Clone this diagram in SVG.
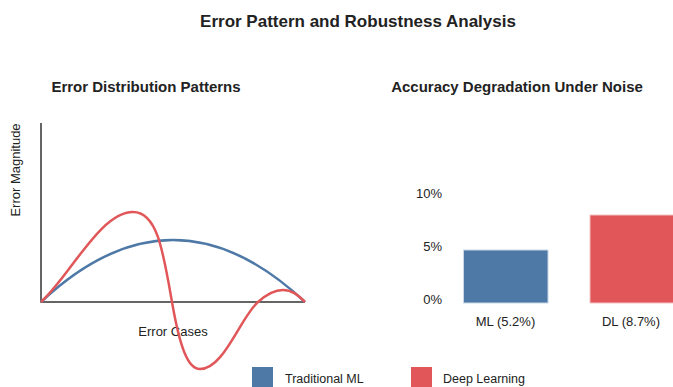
<svg xmlns="http://www.w3.org/2000/svg" width="673" height="387" viewBox="0 0 673 387">
<style>
text{font-family:"Liberation Sans",Arial,sans-serif;fill:#222}
.t{font-size:17px;font-weight:bold;text-anchor:middle}
.st{font-size:15px;font-weight:bold;text-anchor:middle}
.lb{font-size:13px}
.lg{font-size:12.5px}
.ax{stroke:#333;stroke-width:1.5;fill:none}
.ml{fill:#4e79a7}
.dl{fill:#e15759}
</style>
<rect width="673" height="387" fill="#fff"/>
<text class="t" x="358" y="27">Error Pattern and Robustness Analysis</text>
<g id="left-chart">
<text class="st" x="146" y="92">Error Distribution Patterns</text>
<path class="ax" d="M41,123 V302 H305"/>
<text class="lb" transform="translate(20,170) rotate(-90)" text-anchor="middle">Error Magnitude</text>
<text class="lb" x="173" y="336" text-anchor="middle">Error Cases</text>
<path d="M41,302 Q173,178 305,302" fill="none" stroke="#4e79a7" stroke-width="2.5"/>
<path d="M41,302 C70,276 100,212 133,212 C157,212 163,250 172,302 C180,348 188,369 200,369 C224,369 240,318 258,302 C268,293 276,290 283,290 C292,290 298,295 305,302" fill="none" stroke="#e15759" stroke-width="2.5"/>
</g>
<g id="right-chart">
<text class="st" x="517" y="92">Accuracy Degradation Under Noise</text>
<text class="lb" x="442" y="198" text-anchor="end">10%</text>
<text class="lb" x="442" y="251" text-anchor="end">5%</text>
<text class="lb" x="442" y="304" text-anchor="end">0%</text>
<rect class="ml" x="463.5" y="250" width="84.5" height="53" stroke="#c9d6e6" stroke-width="1"/>
<rect class="dl" x="590" y="215" width="90" height="88" stroke="#f3c3c4" stroke-width="1"/>
<text class="lb" x="505.5" y="326" text-anchor="middle">ML (5.2%)</text>
<text class="lb" x="631" y="326" text-anchor="middle">DL (8.7%)</text>
</g>
<g id="legend">
<rect class="ml" x="252" y="367" width="21" height="21"/>
<text class="lg" x="285" y="383">Traditional ML</text>
<rect class="dl" x="411" y="367" width="21" height="21"/>
<text class="lg" x="443" y="383">Deep Learning</text>
</g>
</svg>
